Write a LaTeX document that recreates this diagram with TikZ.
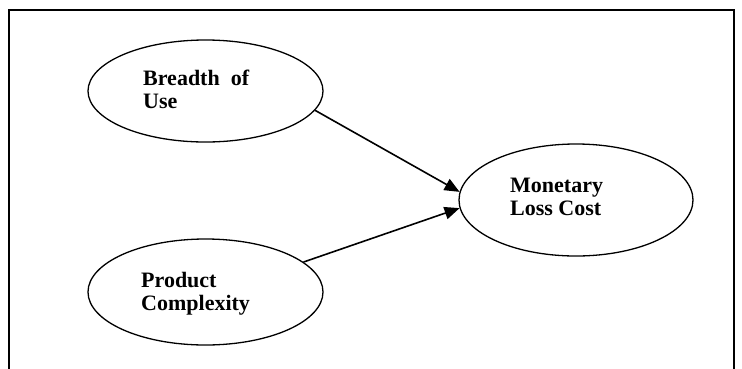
\documentclass[tikz,border=0pt]{standalone}
\usepackage{fontspec}
\setmainfont{Liberation Serif}
\usetikzlibrary{arrows.meta,shapes.geometric}
\begin{document}
\begin{tikzpicture}[x=1pt,y=-1pt,
  construct/.style={draw, ellipse, line width=1.3pt, inner sep=0pt},
  ctext/.style={anchor=north west, inner sep=0pt, align=left,
    font=\fontsize{22}{23}\selectfont\bfseries},
  link/.style={-{Triangle[length=15pt,width=12.5pt]}, line width=1.6pt}]
  \useasboundingbox (0,0) rectangle (742,368);
  \clip (0,0) rectangle (742,368);
  % outer frame (its lower edge runs past the page)
  \draw[line width=1.5pt] (9,10) rectangle (734,400);
  % constructs
  \node[construct, minimum width=235pt, minimum height=102pt] (b) at (205.5,91) {};
  \node[construct, minimum width=234pt, minimum height=112pt] (m) at (576,200) {};
  \node[construct, minimum width=235pt, minimum height=106pt] (p) at (205.5,292) {};
  % construct names
  \node[ctext] (tb) at (143,70) {Breadth\ \ of\\Use};
  \node[ctext] (tm) at (510,178) {Monetary\\Loss Cost};
  \node[ctext] (tp) at (141,272) {Product\\Complexity};
  % paths
  \draw[link] (b.-10) -- (m.176);
  \draw[link] (p.17) -- (m.184);
\end{tikzpicture}
\end{document}
